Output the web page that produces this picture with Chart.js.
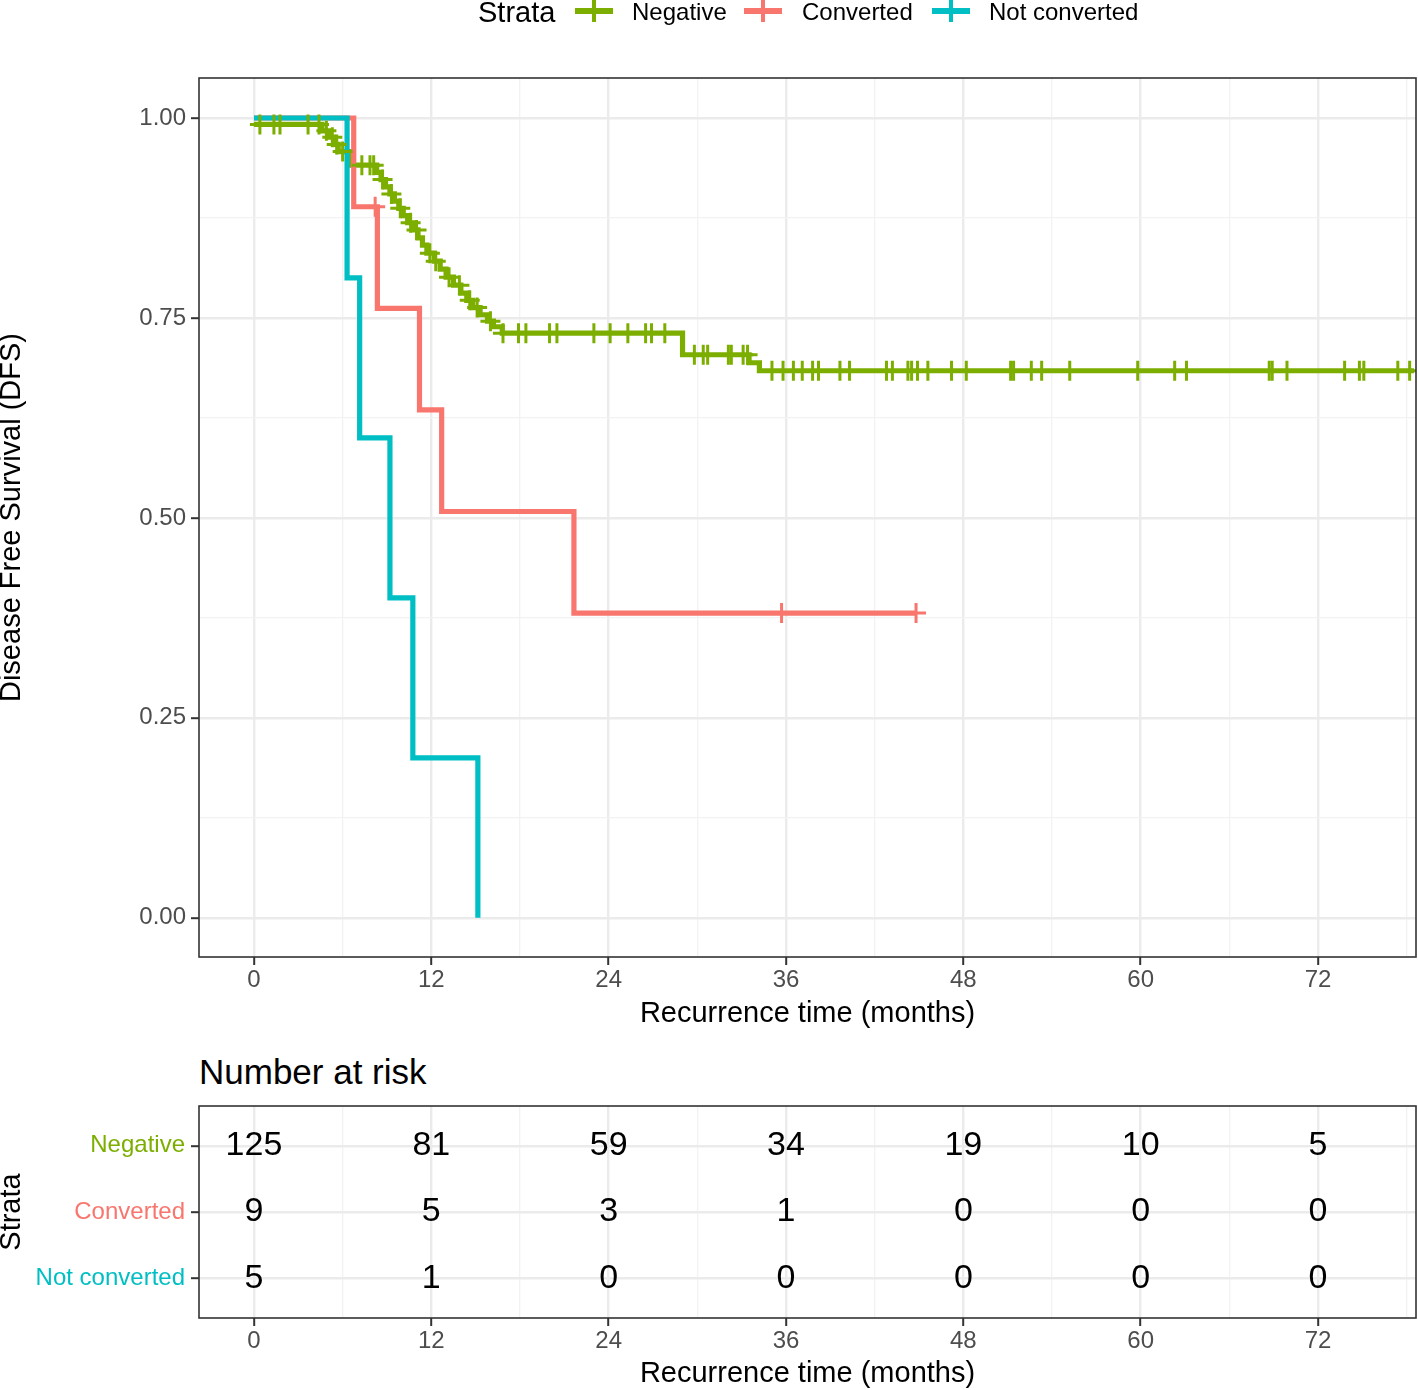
<!DOCTYPE html>
<html>
<head>
<meta charset="utf-8">
<script src="https://cdn.jsdelivr.net/npm/chart.js@4.4.1/dist/chart.umd.min.js"></script>
<style>
  html, body { margin: 0; padding: 0; background: #fff; }
  body { width: 1418px; height: 1390px; position: relative; overflow: hidden;
         font-family: 'Liberation Sans', Arial, sans-serif; }
  #main { position: absolute; left: 0; top: 0; }
  #risk { position: absolute; left: 0; top: 1085px; }
  .lg { position: absolute; top: 0; line-height: 24px; color: #000; white-space: nowrap; }
  .lg.title { font-size: 29px; }
  .lg.item { font-size: 24px; }
  .key { position: absolute; top: 0; width: 38px; height: 24px; }
  .key .h { position: absolute; left: 0; top: 8px; width: 38px; height: 6px; }
  .key .v { position: absolute; left: 17px; top: 0; width: 4px; height: 22px; }
  #riskTitle { position: absolute; left: 199px; top: 1054px; font-size: 35px; line-height: 36px; color: #000; }
</style>
</head>
<body>
<canvas id="main" width="1418" height="1040"></canvas>
<div class="lg title" style="left:478px">Strata</div>
<div class="key" style="left:575px"><div class="h" style="background:#7CAE00"></div><div class="v" style="background:#7CAE00"></div></div>
<div class="lg item" style="left:632px">Negative</div>
<div class="key" style="left:744px"><div class="h" style="background:#F8766D"></div><div class="v" style="background:#F8766D"></div></div>
<div class="lg item" style="left:802px">Converted</div>
<div class="key" style="left:932px"><div class="h" style="background:#00BFC4"></div><div class="v" style="background:#00BFC4"></div></div>
<div class="lg item" style="left:989px">Not converted</div>
<div id="riskTitle">Number at risk</div>
<canvas id="risk" width="1418" height="305"></canvas>
<script>
// --- data ---
const strata = ['Negative', 'Converted', 'Not converted'];
const strataColors = ['#7CAE00', '#F8766D', '#00BFC4'];

// Kaplan-Meier steps: time (months) and survival after each step
const negTimes = [0, 4.6, 5.1, 5.4, 5.7, 6.6, 8.3, 8.6, 8.9, 9.2, 9.5, 9.8, 10.1, 10.4, 10.8, 11.1, 11.4, 11.7,
                  12.2, 12.6, 13.0, 13.5, 14.0, 14.4, 14.8, 15.3, 15.8, 16.2, 16.8, 29.0, 33.5, 34.2, 78.5];
const negSurv  = [0.992, 0.984, 0.976, 0.967, 0.958, 0.941, 0.932, 0.923, 0.914, 0.905, 0.896, 0.887, 0.878, 0.869, 0.860, 0.850, 0.841, 0.831,
                  0.821, 0.811, 0.801, 0.791, 0.781, 0.772, 0.763, 0.754, 0.746, 0.739, 0.731, 0.704, 0.694, 0.684, 0.684];
const negCensor = [0.4, 1.35, 1.76, 3.66, 4.4, 4.9, 5.3, 5.6, 6.0, 7.3, 7.85, 8.1, 8.7, 9.3, 9.9, 10.6, 11.0, 11.9,
                   12.3, 13.2, 13.9, 14.6, 15.1, 16.0, 16.85, 17.9, 18.4, 20.0, 20.5, 23.0, 24.1, 25.3, 26.5, 26.9, 27.8,
                   29.8, 30.4, 30.7, 32.1, 32.3, 33.1, 33.4, 35.05, 35.8, 36.5, 37.1, 37.8, 38.2, 39.65, 40.3, 42.8, 43.2,
                   44.25, 44.5, 44.9, 45.6, 47.2, 48.2, 51.2, 51.4, 52.6, 53.3, 55.2, 59.8, 62.3, 63.1, 68.7, 68.9, 69.9,
                   73.8, 74.8, 75.1, 77.4, 78.2];

const convTimes = [0, 6.75, 8.35, 11.2, 12.7, 21.65, 44.8];
const convSurv  = [1, 0.889, 0.762, 0.635, 0.508, 0.381, 0.381];
const convCensor = [8.2, 35.7, 44.8];

const notTimes = [0, 6.3, 7.15, 9.2, 10.75, 15.15];
const notSurv  = [1, 0.8, 0.6, 0.4, 0.2, 0];

// x axis (months) and y axis ticks
const xTicks = [0, 6, 12, 18, 24, 30, 36, 42, 48, 54, 60, 66, 72, 78];
const xLabels = [0, 12, 24, 36, 48, 60, 72];
const yTicks = [0, 0.125, 0.25, 0.375, 0.5, 0.625, 0.75, 0.875, 1];
const yLabels = [0, 0.25, 0.5, 0.75, 1];

// number at risk
const riskTimes = [0, 12, 24, 36, 48, 60, 72];
const riskNegative = [125, 81, 59, 34, 19, 10, 5];
const riskConverted = [9, 5, 3, 1, 0, 0, 0];
const riskNotConverted = [5, 1, 0, 0, 0, 0, 0];

// --- helpers ---
const FONT = "'Liberation Sans', Arial, sans-serif";
Chart.defaults.font.family = FONT;
Chart.defaults.animation = false;

function toPoints(times, surv) {
    return times.map((t, i) => ({ x: t, y: surv[i] }));
}
// survival value of the step curve at time t (for censor marks)
function survAt(times, surv, t) {
    let s = surv[0];
    for (let i = 0; i < times.length; i++) {
        if (times[i] <= t) s = surv[i];
    }
    return s;
}
function censorPoints(times, surv, cens) {
    return cens.map(t => ({ x: t, y: survAt(times, surv, t) }));
}

const panelBorder = {
    id: 'panelBorder',
    afterDatasetsDraw(chart) {
        const { ctx, chartArea: a } = chart;
        ctx.save();
        ctx.strokeStyle = '#333333';
        ctx.lineWidth = 1.6;
        ctx.strokeRect(a.left, a.top, a.right - a.left, a.bottom - a.top);
        ctx.restore();
    }
};

function xScale(height) {
    return {
        type: 'linear',
        min: -3.72,
        max: 78.63,
        afterBuildTicks: s => { s.ticks = xTicks.map(v => ({ value: v })); },
        afterFit: s => { s.height = height; },
        ticks: {
            autoSkip: false, maxRotation: 0, padding: 1,
            color: '#4D4D4D', font: { size: 24 },
            callback: v => xLabels.includes(v) ? String(v) : ''
        },
        grid: {
            color: c => xLabels.includes(c.tick.value) ? '#EBEBEB' : '#F2F2F2',
            lineWidth: c => xLabels.includes(c.tick.value) ? 2.4 : 1.3,
            tickColor: c => xLabels.includes(c.tick.value) ? '#333333' : 'rgba(0,0,0,0)',
            tickLength: 8, tickWidth: 2
        },
        border: { display: false },
        title: {
            display: true, text: 'Recurrence time (months)', color: '#000',
            font: { size: 29, lineHeight: 1.1 }, padding: 0
        }
    };
}

// --- main survival chart ---
const lineBase = { showLine: true, stepped: 'before', pointRadius: 0, borderWidth: 5.2, fill: false, borderJoinStyle: 'miter' };
const crossBase = { showLine: false, pointStyle: 'cross', pointRadius: 10, pointBorderWidth: 3, pointHoverRadius: 10 };

new Chart(document.getElementById('main'), {
    type: 'scatter',
    data: {
        datasets: [
            Object.assign({ label: strata[0] + ' censored', data: censorPoints(negTimes, negSurv, negCensor),
                borderColor: strataColors[0], backgroundColor: strataColors[0], order: 0 }, crossBase),
            Object.assign({ label: strata[1] + ' censored', data: censorPoints(convTimes, convSurv, convCensor),
                borderColor: strataColors[1], backgroundColor: strataColors[1], order: 0 }, crossBase),
            Object.assign({ label: strata[2], data: toPoints(notTimes, notSurv), borderColor: strataColors[2], order: 1 }, lineBase),
            Object.assign({ label: strata[1], data: toPoints(convTimes, convSurv), borderColor: strataColors[1], order: 2 }, lineBase),
            Object.assign({ label: strata[0], data: toPoints(negTimes, negSurv), borderColor: strataColors[0], order: 3 }, lineBase)
        ]
    },
    options: {
        responsive: false,
        layout: { autoPadding: false, padding: { left: 0, right: 2, top: 78, bottom: 10 } },
        plugins: { legend: { display: false }, tooltip: { enabled: false } },
        scales: {
            x: xScale(73),
            y: {
                type: 'linear',
                min: -0.049,
                max: 1.05,
                afterBuildTicks: s => { s.ticks = yTicks.map(v => ({ value: v })); },
                afterFit: s => { s.width = 199; },
                ticks: {
                    autoSkip: false, padding: 5, color: '#4D4D4D', font: { size: 24 },
                    callback: v => yLabels.includes(v) ? v.toFixed(2) : ''
                },
                grid: {
                    color: c => yLabels.includes(c.tick.value) ? '#EBEBEB' : '#F2F2F2',
                    lineWidth: c => yLabels.includes(c.tick.value) ? 2.4 : 1.3,
                    tickColor: c => yLabels.includes(c.tick.value) ? '#333333' : 'rgba(0,0,0,0)',
                    tickLength: 8, tickWidth: 2
                },
                border: { display: false },
                title: {
                    display: true, text: 'Disease Free Survival (DFS)', color: '#000',
                    font: { size: 29, lineHeight: 0.83 }, padding: 0
                }
            }
        }
    },
    plugins: [panelBorder]
});

// --- number at risk table ---
const riskLabels = {
    id: 'riskLabels',
    afterDatasetsDraw(chart) {
        const { ctx } = chart;
        ctx.save();
        ctx.font = '34px ' + FONT;
        ctx.fillStyle = '#000';
        ctx.textAlign = 'center';
        ctx.textBaseline = 'middle';
        chart.data.datasets.forEach((ds, di) => {
            chart.getDatasetMeta(di).data.forEach((pt, i) => {
                ctx.fillText(String(ds.counts[i]), pt.x, pt.y);
            });
        });
        ctx.restore();
    }
};

const riskRows = [riskNegative, riskConverted, riskNotConverted];
new Chart(document.getElementById('risk'), {
    type: 'scatter',
    data: {
        datasets: riskRows.map((row, r) => ({
            label: strata[r],
            counts: row,
            data: riskTimes.map(t => ({ x: t, y: r + 1 })),
            pointRadius: 0,
            pointHoverRadius: 0
        }))
    },
    options: {
        responsive: false,
        layout: { autoPadding: false, padding: { left: 0, right: 2, top: 21, bottom: 0 } },
        plugins: { legend: { display: false }, tooltip: { enabled: false } },
        scales: {
            x: xScale(72),
            y: {
                type: 'linear',
                min: 0.4,
                max: 3.6,
                reverse: true,
                afterBuildTicks: s => { s.ticks = [1, 2, 3].map(v => ({ value: v })); },
                afterFit: s => { s.width = 199; },
                ticks: {
                    autoSkip: false, padding: 6, font: { size: 24 },
                    color: c => strataColors[c.tick.value - 1],
                    callback: v => strata[v - 1]
                },
                grid: { color: '#EBEBEB', lineWidth: 2.4, tickColor: '#333333', tickLength: 8, tickWidth: 2 },
                border: { display: false },
                title: {
                    display: true, text: 'Strata', color: '#000',
                    font: { size: 29, lineHeight: 0.83 }, padding: 0
                }
            }
        }
    },
    plugins: [panelBorder, riskLabels]
});
</script>
</body>
</html>
